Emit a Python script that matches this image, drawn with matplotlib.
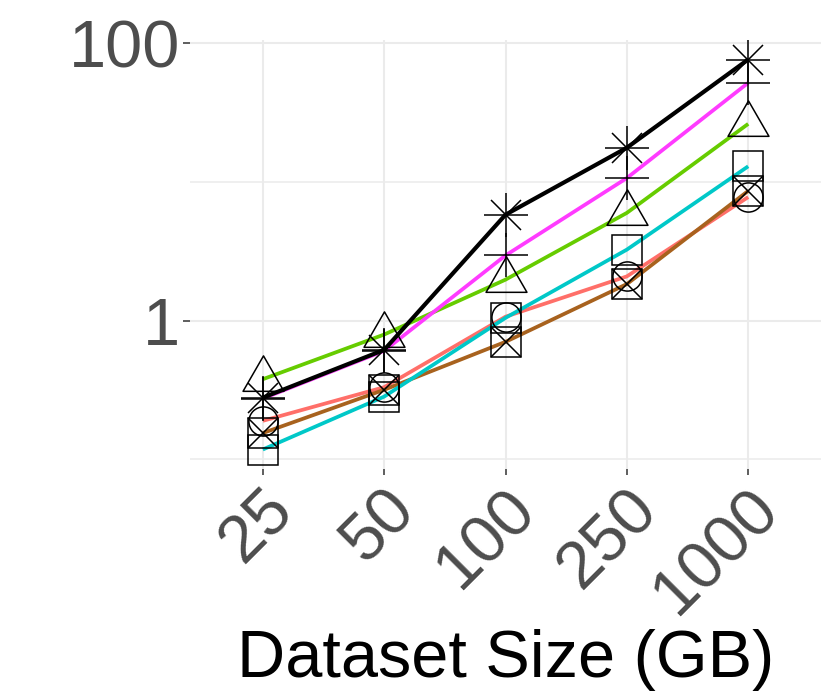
import numpy as np
import matplotlib
matplotlib.use("Agg")
import matplotlib.pyplot as plt
from matplotlib.path import Path
from matplotlib import transforms

plt.rcParams['font.family'] = ['Liberation Sans', 'DejaVu Sans']

sizes = ['25', '50', '100', '250', '1000']

# one list per line
salmon = [0.19, 0.332, 1.07, 2.09, 7.8]
brown = [0.155, 0.318, 0.705, 1.84, 8.64]
cyan = [0.118, 0.284, 1.05, 3.26, 13.0]
green = [0.379, 0.796, 1.98, 6.0, 26.3]
magenta = [0.275, 0.607, 2.96, 10.7, 52.0]
black = [0.279, 0.617, 5.82, 17.7, 76.6]

# equilateral triangle centred on its centroid (like R pch 2)
tri = Path([(0, 0.577), (-0.5, -0.289), (0.5, -0.289), (0, 0.577)],
           [Path.MOVETO, Path.LINETO, Path.LINETO, Path.CLOSEPOLY])

series = [
    (salmon, '#FF6F69', [('o', 21)]),
    (brown, '#A8621E', [('s', 21.6), ('x', 21.6)]),
    (cyan, '#00C8C8', [('s', 21.6)]),
    (green, '#66CC00', [(tri, 34)]),
    (magenta, '#FF3BFF', [('+', 31.5)]),
    (black, '#000000', [('+', 31.5), ('x', 21.6)]),
]

fig = plt.figure(figsize=(8.3, 6.92), dpi=100)
ax = fig.add_axes([190 / 830, 1 - 469 / 692, 631 / 830, 429 / 692])

x = np.arange(len(sizes))
for vals, col, _ in series:
    ax.plot(x, vals, color=col, lw=2.7 if col != '#000000' else 3.0, zorder=3,
            solid_capstyle='butt')
for vals, col, marks in series:
    for m, ms in marks:
        ax.plot(x, vals, linestyle='none', marker=m, ms=ms, mfc='none',
                mec='black', mew=1.1, zorder=4)

ax.set_yscale('log')
allv = np.log10(np.concatenate([s[0] for s in series]))
lo, hi = allv.min(), allv.max()
pad = 0.05 * (hi - lo)
ax.set_ylim(10 ** (lo - pad), 10 ** (hi + pad))
ax.set_xlim(-0.6, len(sizes) - 0.4)

ax.set_yticks([1, 100])
ax.set_yticklabels(['1', '100'])
ax.set_yticks([0.1, 10], minor=True)
ax.yaxis.set_minor_formatter(plt.NullFormatter())
ax.set_xticks(x)

ax.grid(True, which='major', color='#EBEBEB', lw=1.5)
ax.grid(True, which='minor', axis='y', color='#EBEBEB', lw=1.1)
ax.set_axisbelow(True)
for sp in ax.spines.values():
    sp.set_visible(False)

ax.tick_params(axis='y', which='major', length=5, width=1.1, color='#333333',
               labelsize=48, labelcolor='#4D4D4D', pad=2)
ax.tick_params(axis='y', which='minor', length=0)
ax.tick_params(axis='x', length=4, width=1.1, color='#333333', labelbottom=False)

# rotated category labels
trans = transforms.blended_transform_factory(ax.transData, ax.transAxes)
off = transforms.ScaledTranslation(-1 / 100, -9 / 100, fig.dpi_scale_trans)
for i, lab in enumerate(sizes):
    ax.text(i, 0, lab, transform=trans + off, rotation=45, rotation_mode='anchor',
            ha='right', va='top', fontsize=48, color='#4D4D4D')

fig.text(505.5 / 830, 1 - 677 / 692, 'Dataset Size (GB)', ha='center',
         va='baseline', fontsize=48, color='black')

fig.savefig('out.png', dpi=100)
